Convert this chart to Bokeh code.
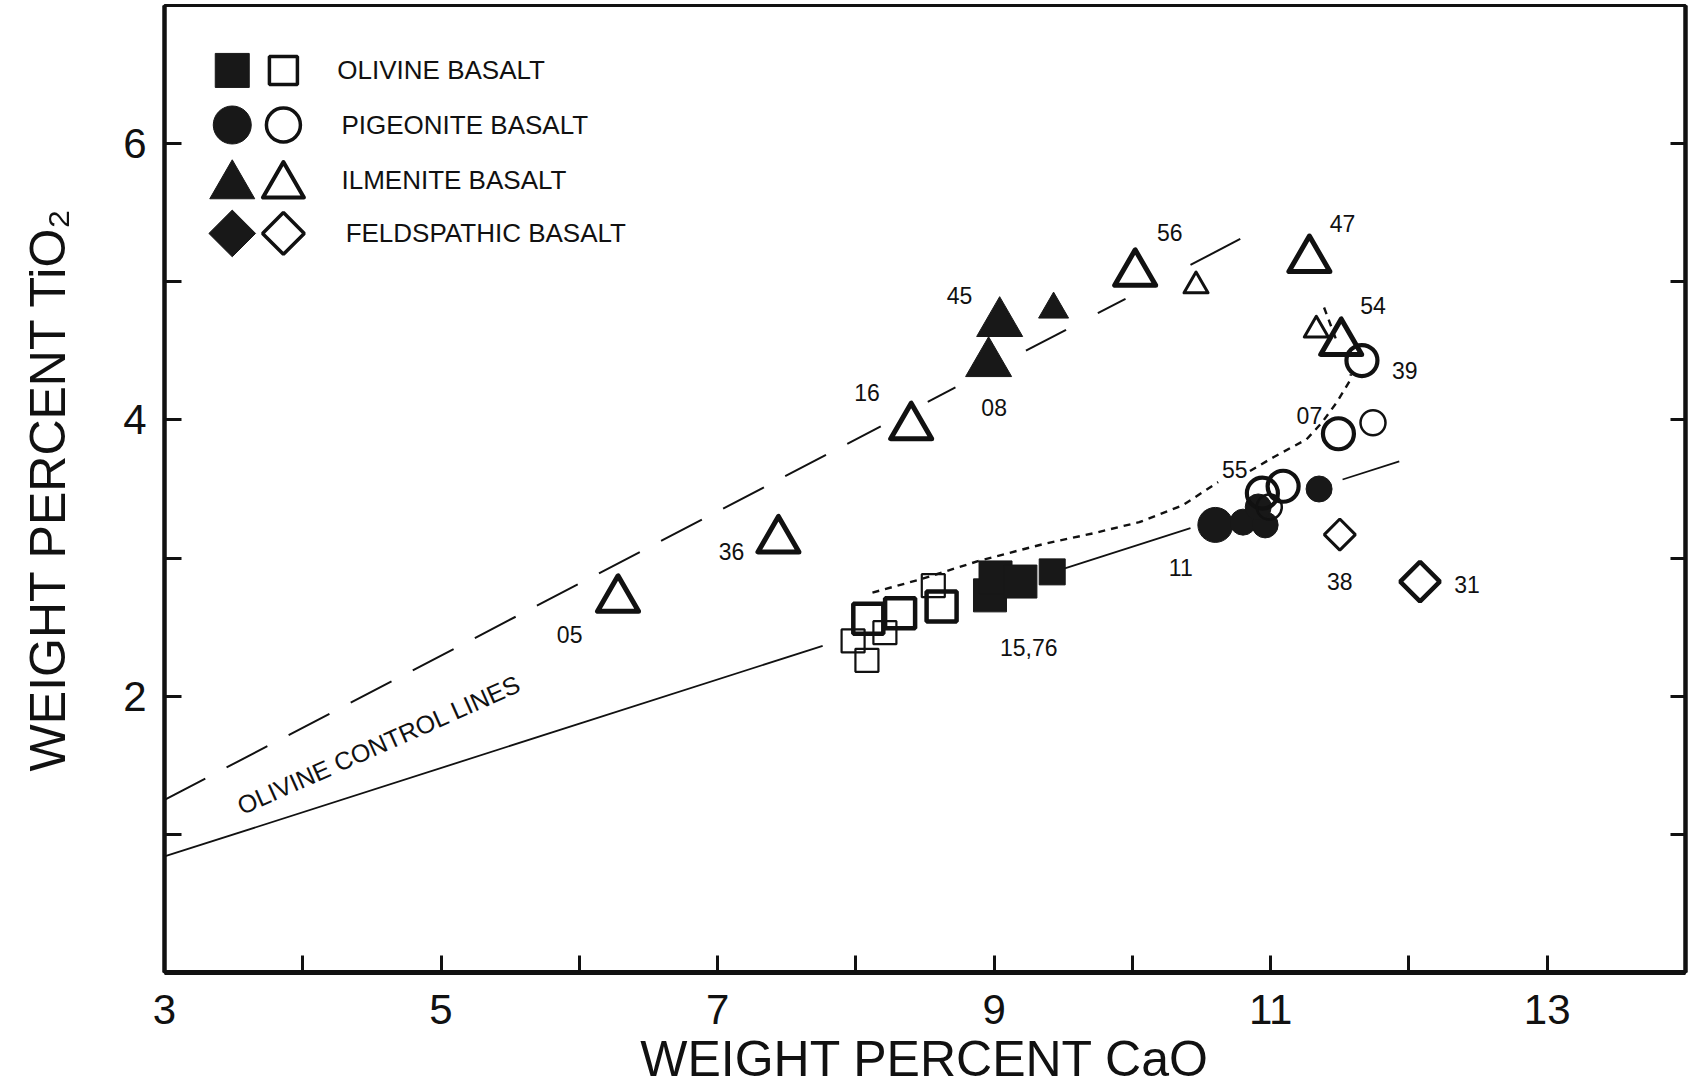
import numpy as np
from bokeh.plotting import figure
from bokeh.models import ColumnDataSource, FixedTicker, LinearAxis, Range1d, LabelSet, Label
from bokeh.core.properties import value
from bokeh.embed import file_html
from bokeh.resources import INLINE

# ---------------------------------------------------------------- data
# CaO (x) and TiO2 (y) in weight percent; "L"/"S" = large / small symbol class

# olivine basalt (squares)
olv_fill_x = [8.97, 9.01, 9.19, 9.42]
olv_fill_y = [2.73, 2.86, 2.83, 2.90]
olv_fill_cls = ["L", "L", "L", "S"]
olv_open_x = [8.09, 8.32, 8.62, 8.56, 7.98, 8.21, 8.08]
olv_open_y = [2.56, 2.60, 2.65, 2.80, 2.40, 2.46, 2.26]
olv_open_cls = ["L", "L", "L", "S", "S", "S", "S"]

# pigeonite basalt (circles)
pig_fill_x = [10.60, 10.80, 10.96, 10.91, 11.35]
pig_fill_y = [3.24, 3.26, 3.24, 3.37, 3.50]
pig_fill_cls = ["L", "S", "S", "S", "S"]
pig_open_x = [10.94, 11.09, 10.99, 11.66, 11.49, 11.74]
pig_open_y = [3.47, 3.52, 3.37, 4.43, 3.90, 3.98]
pig_open_cls = ["L", "L", "S", "L", "L", "S"]

# ilmenite basalt (triangles)
ilm_fill_x = [8.96, 9.04, 9.43]
ilm_fill_y = [4.41, 4.70, 4.80]
ilm_fill_cls = ["L", "L", "S"]
ilm_open_x = [6.28, 7.44, 8.40, 10.02, 10.46, 11.28, 11.33, 11.51]
ilm_open_y = [2.70, 3.13, 3.95, 5.06, 4.97, 5.16, 4.65, 4.56]
ilm_open_cls = ["L", "L", "L", "L", "S", "L", "S", "L"]

# feldspathic basalt (diamonds)
fel_open_x = [11.50, 12.08]
fel_open_y = [3.17, 2.83]
fel_open_cls = ["S", "L"]

# sample numbers written beside the symbols
label_text = ["05", "36", "16", "08", "45", "56", "47", "54", "39", "07",
              "55", "11", "38", "31", "15,76"]
label_x = [5.93, 7.10, 8.08, 9.00, 8.75, 10.27, 11.52, 11.74, 11.97, 11.28,
           10.74, 10.35, 11.50, 12.42, 9.25]
label_y = [2.45, 3.05, 4.20, 4.09, 4.90, 5.36, 5.42, 4.83, 4.36, 4.03,
           3.64, 2.93, 2.83, 2.81, 2.35]

# olivine control lines: end points and the stretches actually inked
ctrl_upper_x = [3.0, 10.78]
ctrl_upper_y = [1.25, 5.31]
ctrl_upper_dashed = [(3.0, 8.18)]
ctrl_upper_solid = [(8.52, 8.72), (9.23, 9.52), (9.75, 9.95), (10.42, 10.78)]
ctrl_lower_x = [3.0, 11.93]
ctrl_lower_y = [0.84, 3.70]
ctrl_lower_solid = [(3.0, 7.76), (9.50, 10.42), (11.52, 11.93)]

# dotted trend through the pigeonite group (NaN = break in the line)
trend_x = [8.12, 8.48, 8.89, 9.35, 9.72, 10.05, 10.36, 10.62, np.nan,
           10.85, 11.02, 11.26, 11.37, 11.48, 11.57, 11.58, np.nan, 11.47, 11.38]
trend_y = [2.75, 2.85, 2.98, 3.10, 3.18, 3.26, 3.38, 3.55, np.nan,
           3.63, 3.73, 3.86, 3.98, 4.13, 4.28, 4.33, np.nan, 4.59, 4.83]

legend_labels = ["OLIVINE BASALT", "PIGEONITE BASALT", "ILMENITE BASALT", "FELDSPATHIC BASALT"]

# ---------------------------------------------------------------- style
FONT = "Liberation Sans"
INK = "#111111"
FILL = "#181818"

p = figure(frame_width=1521, frame_height=967,
           x_range=Range1d(3, 14), y_range=Range1d(0, 7),
           output_backend="svg", toolbar_location=None,
           min_border_left=164, min_border_right=6,
           min_border_top=5, min_border_bottom=114,
           x_axis_label="WEIGHT PERCENT CaO",
           y_axis_label="WEIGHT PERCENT TiO\u2082")
p.background_fill_color = "white"
p.border_fill_color = "white"
p.xgrid.visible = False
p.ygrid.visible = False
p.outline_line_color = INK
p.outline_line_width = 3

for ax in (p.xaxis[0], p.yaxis[0]):
    ax.axis_line_color = INK
    ax.major_tick_line_color = INK
    ax.minor_tick_line_color = INK
    ax.major_tick_line_width = 3
    ax.minor_tick_line_width = 3
    ax.major_tick_out = 0
    ax.minor_tick_out = 0
    ax.major_tick_in = 17
    ax.minor_tick_in = 17
    ax.major_label_text_font = FONT
    ax.major_label_text_font_size = "42px"
    ax.major_label_text_color = INK
    ax.axis_label_text_font = FONT
    ax.axis_label_text_font_size = "50px"
    ax.axis_label_text_font_style = "normal"
    ax.axis_label_text_color = INK

p.xaxis[0].ticker = FixedTicker(ticks=[3, 5, 7, 9, 11, 13], minor_ticks=[4, 6, 8, 10, 12])
p.xaxis[0].axis_line_width = 5
p.xaxis[0].major_label_standoff = 22
p.xaxis[0].axis_label_standoff = 4

p.yaxis[0].ticker = FixedTicker(ticks=[2, 4, 6], minor_ticks=[1, 3, 5])
p.yaxis[0].axis_line_width = 4.5
p.yaxis[0].major_label_standoff = 18
p.yaxis[0].axis_label_standoff = 44

# ticks on the right-hand frame edge, without numbers
right = LinearAxis(ticker=FixedTicker(ticks=[1, 2, 3, 4, 5, 6]),
                   axis_line_width=4.5, axis_line_color=INK,
                   major_tick_in=15, major_tick_out=0, major_tick_line_width=3,
                   major_tick_line_color=INK, minor_tick_line_color=None,
                   major_label_text_color=None, major_label_text_font_size="1px",
                   major_label_standoff=0)
p.add_layout(right, "right")


def runs_to_lines(ends_x, ends_y, runs):
    xs, ys = [], []
    for a, b in runs:
        xs.append([a, b])
        ys.append(list(np.interp([a, b], ends_x, ends_y)))
    return xs, ys


# control lines
ux, uy = runs_to_lines(ctrl_upper_x, ctrl_upper_y, ctrl_upper_dashed)
p.multi_line(ux, uy, line_color=INK, line_width=2, line_dash="46 24")
ux, uy = runs_to_lines(ctrl_upper_x, ctrl_upper_y, ctrl_upper_solid)
p.multi_line(ux, uy, line_color=INK, line_width=2)
lx, ly = runs_to_lines(ctrl_lower_x, ctrl_lower_y, ctrl_lower_solid)
p.multi_line(lx, ly, line_color=INK, line_width=1.8)

p.line(trend_x, trend_y, line_color=INK, line_width=2.4, line_dash="7 6")


def source(xs, ys, cls, sizes, widths=None):
    d = dict(x=xs, y=ys, size=[sizes[c] for c in cls])
    if widths is not None:
        d["lw"] = [widths[c] for c in cls]
    return ColumnDataSource(d)


# filled symbols
p.scatter("x", "y", source=source(olv_fill_x, olv_fill_y, olv_fill_cls, {"L": 33, "S": 26}),
          marker="square", size="size", fill_color=FILL, line_color=FILL, line_width=1)
p.scatter("x", "y", source=source(pig_fill_x, pig_fill_y, pig_fill_cls, {"L": 35, "S": 26}),
          marker="circle", size="size", fill_color=FILL, line_color=FILL, line_width=1)
p.scatter("x", "y", source=source(ilm_fill_x, ilm_fill_y, ilm_fill_cls, {"L": 46, "S": 30}),
          marker="triangle", size="size", fill_color=FILL, line_color=FILL, line_width=1,
          line_join="round")

# open symbols
p.scatter("x", "y", source=source(olv_open_x, olv_open_y, olv_open_cls,
                                  {"L": 30, "S": 23}, {"L": 4.5, "S": 2.2}),
          marker="square", size="size", line_width="lw", fill_color=None, line_color=INK)
p.scatter("x", "y", source=source(pig_open_x, pig_open_y, pig_open_cls,
                                  {"L": 31, "S": 25}, {"L": 4.2, "S": 2.5}),
          marker="circle", size="size", line_width="lw", fill_color=None, line_color=INK)
p.scatter("x", "y", source=source(ilm_open_x, ilm_open_y, ilm_open_cls,
                                  {"L": 41, "S": 24}, {"L": 5, "S": 3}),
          marker="triangle", size="size", line_width="lw", fill_color=None, line_color=INK,
          line_join="round")
p.scatter("x", "y", source=source(fel_open_x, fel_open_y, fel_open_cls,
                                  {"L": 28, "S": 22}, {"L": 4.5, "S": 3}),
          marker="square", angle=np.pi / 4, size="size", line_width="lw",
          fill_color=None, line_color=INK)

# sample numbers
p.add_layout(LabelSet(x="x", y="y", text="text",
                      source=ColumnDataSource(dict(x=label_x, y=label_y, text=label_text)),
                      text_font=value(FONT), text_font_size="23px", text_color=INK,
                      text_align="center", text_baseline="middle"))

p.add_layout(Label(x=4.55, y=1.65, text="OLIVINE CONTROL LINES", angle=24, angle_units="deg",
                   text_font=FONT, text_font_size="25px", text_color=INK,
                   text_align="center", text_baseline="middle"))

# key in the upper left corner: filled and open symbol for each rock type
key_y = [6.53, 6.135, 5.74, 5.35]
key_fill_x, key_open_x, key_text_x = 3.49, 3.86, [4.25, 4.28, 4.28, 4.31]
tri_shift = 0.045

p.scatter([key_fill_x], [key_y[0]], marker="square", size=34, fill_color=FILL, line_color=FILL)
p.scatter([key_open_x], [key_y[0]], marker="square", size=28, line_width=3.5,
          fill_color=None, line_color=INK)
p.scatter([key_fill_x], [key_y[1]], marker="circle", size=38, fill_color=FILL, line_color=FILL)
p.scatter([key_open_x], [key_y[1]], marker="circle", size=34, line_width=3.5,
          fill_color=None, line_color=INK)
p.scatter([key_fill_x], [key_y[2] - tri_shift], marker="triangle", size=45,
          fill_color=FILL, line_color=FILL, line_join="round")
p.scatter([key_open_x], [key_y[2] - tri_shift], marker="triangle", size=41, line_width=4,
          fill_color=None, line_color=INK, line_join="round")
p.scatter([key_fill_x], [key_y[3]], marker="square", angle=np.pi / 4, size=33,
          fill_color=FILL, line_color=FILL)
p.scatter([key_open_x], [key_y[3]], marker="square", angle=np.pi / 4, size=29.5,
          line_width=3.5, fill_color=None, line_color=INK)

p.text(key_text_x, key_y, text=legend_labels, text_font=value(FONT),
       text_font_size="26px", text_color=INK, text_align="left", text_baseline="middle")

open("out.html", "w").write(file_html(p, INLINE))
